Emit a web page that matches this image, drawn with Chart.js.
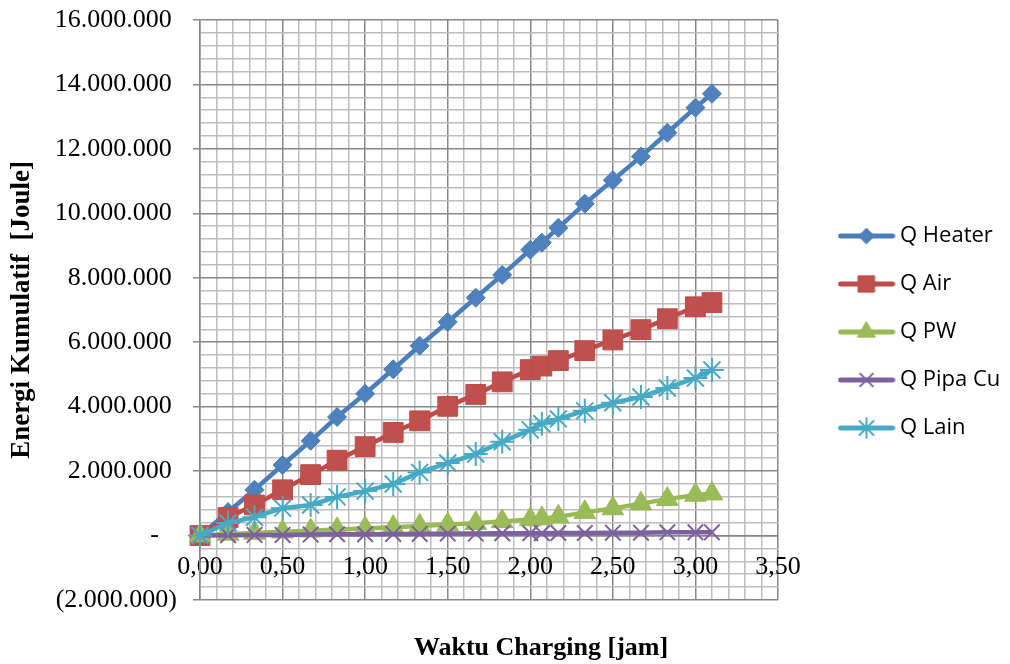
<!DOCTYPE html>
<html>
<head>
<meta charset="utf-8">
<title>Energi Kumulatif</title>
<script src="https://cdn.jsdelivr.net/npm/chart.js@4.4.1/dist/chart.umd.min.js"></script>
<style>
  html, body { margin: 0; padding: 0; background: #ffffff; }
  #wrap { width: 1010px; height: 664px; }
</style>
</head>
<body>
<div id="wrap"><canvas id="chart" width="1010" height="664"></canvas></div>
<script>
// Charging time (hours)
const hours = [0, 0.17, 0.33, 0.5, 0.67, 0.83, 1.0, 1.17, 1.33, 1.5, 1.67, 1.83, 2.0, 2.07, 2.17, 2.33, 2.5, 2.67, 2.83, 3.0, 3.1];

// Cumulative energy per component (Joule)
const qHeater = [0, 730000, 1420000, 2190000, 2940000, 3680000, 4400000, 5160000, 5890000, 6630000, 7380000, 8090000, 8870000, 9090000, 9550000, 10300000, 11030000, 11760000, 12500000, 13280000, 13710000];
const qAir    = [0, 560000, 950000, 1420000, 1890000, 2340000, 2760000, 3200000, 3560000, 4010000, 4380000, 4770000, 5150000, 5260000, 5430000, 5740000, 6070000, 6390000, 6730000, 7100000, 7230000];
const qPW     = [0, 50000, 80000, 120000, 150000, 190000, 220000, 260000, 300000, 340000, 380000, 440000, 500000, 530000, 580000, 720000, 840000, 990000, 1130000, 1260000, 1300000];
const qPipaCu = [0, 10000, 20000, 20000, 30000, 40000, 40000, 50000, 50000, 60000, 60000, 70000, 70000, 70000, 80000, 80000, 90000, 90000, 100000, 100000, 100000];
const qLain   = [0, 390000, 570000, 850000, 950000, 1200000, 1380000, 1600000, 1960000, 2250000, 2530000, 2910000, 3280000, 3470000, 3620000, 3870000, 4120000, 4300000, 4580000, 4890000, 5140000];

const seriesNames = ['Q Heater', 'Q Air', 'Q PW', 'Q Pipa Cu', 'Q Lain'];

// Labelled (major) ticks
const xTickValues = [0, 0.5, 1.0, 1.5, 2.0, 2.5, 3.0, 3.5];
const xTickLabels = ['0,00', '0,50', '1,00', '1,50', '2,00', '2,50', '3,00', '3,50'];
const yTickValues = [-2000000, 0, 2000000, 4000000, 6000000, 8000000, 10000000, 12000000, 14000000, 16000000];
const yTickLabels = ['(2.000.000)', '-', '2.000.000', '4.000.000', '6.000.000', '8.000.000', '10.000.000', '12.000.000', '14.000.000', '16.000.000'];

const X_TITLE = 'Waktu Charging [jam]';
const Y_TITLE = 'Energi Kumulatif  [Joule]';

// ---- styling ----
const seriesValues = [qHeater, qAir, qPW, qPipaCu, qLain];
const seriesStyle = [
  { line: '#4A7EBB', fill: '#4F81BD', marker: 'rectRot',  radius: 9.5, border: 1 },
  { line: '#BE4B48', fill: '#C0504D', marker: 'rect',     radius: 14,  border: 1 },
  { line: '#98B954', fill: '#9BBB59', marker: 'triangle', radius: 12.5, border: 1 },
  { line: '#7D60A0', fill: '#8064A2', marker: 'crossRot', radius: 11,  border: 2 },
  { line: '#46AAC5', fill: '#4BACC6', marker: 'star',     radius: 12,  border: 2 }
];
const MAJOR_GRID = '#878787';
const MINOR_GRID = '#bdbdbd';
const SERIF = '"Liberation Serif", "Times New Roman", serif';
const RIGHT_RESERVE = 232;   // legend + gap to the right of the plot

function majorIndex(values, v, tol) {
  return values.findIndex(t => Math.abs(t - v) < tol);
}

// Small line + marker swatch used as the legend symbol
function legendSymbol(st) {
  const w = 58, h = 28;
  const c = document.createElement('canvas');
  c.width = w; c.height = h;
  const g = c.getContext('2d');
  g.strokeStyle = st.line;
  g.lineWidth = 5;
  g.lineCap = 'round';
  g.beginPath(); g.moveTo(3, h / 2); g.lineTo(w - 3, h / 2); g.stroke();
  g.fillStyle = st.fill;
  g.strokeStyle = st.line;
  g.lineWidth = st.border;
  if (Chart.helpers && Chart.helpers.drawPoint) {
    Chart.helpers.drawPoint(g, { pointStyle: st.marker, radius: st.radius * 0.82, borderWidth: st.border, rotation: 0 }, w / 2, h / 2);
  }
  return c;
}

// Horizontal axis caption drawn below the plot
const xCaption = {
  id: 'xCaption',
  afterDraw(chart, args, opts) {
    const { ctx, chartArea } = chart;
    ctx.save();
    ctx.font = 'bold 26px ' + SERIF;
    ctx.fillStyle = '#000';
    ctx.textAlign = 'center';
    ctx.textBaseline = 'middle';
    ctx.fillText(opts.text, (chartArea.left + chartArea.right) / 2 + opts.shift, chart.height - opts.fromBottom);
    ctx.restore();
  }
};

const tickFont = { family: SERIF, size: 26 };
const hidden = { ticks: { display: false }, grid: { display: false, drawTicks: false }, border: { display: false } };

new Chart(document.getElementById('chart'), {
  type: 'line',
  data: {
    datasets: seriesNames.map((name, i) => ({
      label: name,
      data: hours.map((h, k) => ({ x: h, y: seriesValues[i][k] })),
      borderColor: seriesStyle[i].line,
      backgroundColor: seriesStyle[i].fill,
      borderWidth: 4.5,
      pointStyle: seriesStyle[i].marker,
      pointRadius: seriesStyle[i].radius,
      pointBorderWidth: seriesStyle[i].border,
      pointBackgroundColor: seriesStyle[i].fill,
      pointBorderColor: seriesStyle[i].line,
      tension: 0,
      fill: false,
      clip: false,
      order: seriesNames.length - i
    }))
  },
  options: {
    responsive: false,
    animation: false,
    events: [],
    layout: { padding: 0 },
    scales: {
      x: {
        type: 'linear',
        min: 0, max: 3.5,
        position: { y: 0 },
        ticks: {
          stepSize: 0.1, autoSkip: false, minRotation: 0, maxRotation: 0,
          padding: 16, font: tickFont, color: '#000',
          callback: v => { const k = majorIndex(xTickValues, v, 1e-6); return k >= 0 ? xTickLabels[k] : ''; }
        },
        grid: {
          drawTicks: false,
          lineWidth: 1.5,
          color: c => (c.tick && majorIndex(xTickValues, c.tick.value, 1e-6) >= 0) ? MAJOR_GRID : MINOR_GRID
        },
        border: { color: MAJOR_GRID, width: 1.5 }
      },
      y: {
        type: 'linear',
        min: -2000000, max: 16000000,
        position: 'left',
        ticks: {
          stepSize: 400000, autoSkip: false, padding: 16, font: tickFont, color: '#000',
          callback: v => {
            const k = majorIndex(yTickValues, v, 1);
            if (k < 0) return '';
            const s = yTickLabels[k];
            if (v > 0) return s + '\u2009';
            if (v === 0) return s + '\u2007\u2009';
            return s;
          }
        },
        grid: {
          lineWidth: 1.5,
          tickLength: 7,
          tickWidth: 1.5,
          color: c => (c.tick && majorIndex(yTickValues, c.tick.value, 1) >= 0) ? MAJOR_GRID : MINOR_GRID,
          tickColor: c => (c.tick && majorIndex(yTickValues, c.tick.value, 1) >= 0) ? MAJOR_GRID : 'rgba(0,0,0,0)'
        },
        border: { color: MAJOR_GRID, width: 1.5 },
        title: {
          display: true, text: Y_TITLE, color: '#000',
          font: { family: SERIF, size: 27, weight: 'bold' },
          padding: { top: 6, bottom: 0 }
        },
        afterFit: s => { s.width = 200; s.paddingTop = 16; s.paddingBottom = 16; }
      },
      xTop:    Object.assign({ type: 'linear', axis: 'x', position: 'top',    afterFit: s => { s.height = 20; } }, hidden),
      xBottom: Object.assign({ type: 'linear', axis: 'x', position: 'bottom', afterFit: s => { s.height = 64; } }, hidden),
      yRight:  Object.assign({ type: 'linear', axis: 'y', position: 'right',
        afterFit: s => { s.width = Math.max(0, RIGHT_RESERVE - (s.chart.legend ? s.chart.legend.width : 0)); } }, hidden)
    },
    plugins: {
      tooltip: { enabled: false },
      legend: {
        position: 'right',
        align: 'center',
        maxWidth: 192,
        labels: {
          usePointStyle: true,
          pointStyleWidth: 45,
          padding: 26,
          color: '#000',
          font: { family: '"Open Sans", "Noto Sans", sans-serif', size: 22 },
          generateLabels: () => seriesNames.map((name, i) => ({
            text: name,
            pointStyle: legendSymbol(seriesStyle[i]),
            fillStyle: seriesStyle[i].fill,
            strokeStyle: seriesStyle[i].line,
            lineWidth: 0,
            fontColor: '#000',
            hidden: false,
            datasetIndex: i
          }))
        }
      },
      xCaption: { text: X_TITLE, shift: 52, fromBottom: 16 }
    }
  },
  plugins: [xCaption]
});
</script>
</body>
</html>
